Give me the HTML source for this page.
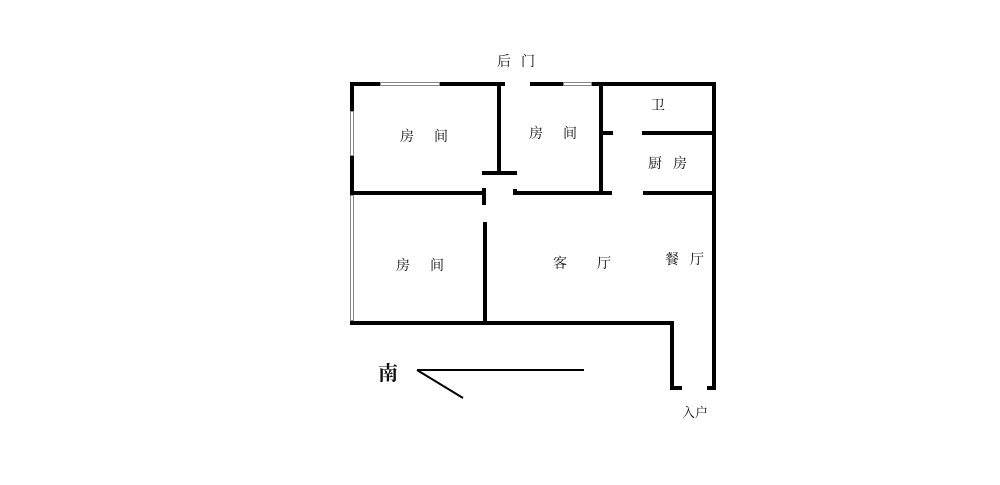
<!DOCTYPE html>
<html><head><meta charset="utf-8"><style>
html,body{margin:0;padding:0;background:#fff;width:1000px;height:485px;overflow:hidden}
svg text{font-family:"Liberation Serif","Noto Serif CJK SC",serif;font-size:14px;fill:#111}
</style></head><body>
<svg width="1000" height="485" viewBox="0 0 1000 485" xmlns="http://www.w3.org/2000/svg">
<g stroke="#000" stroke-width="4" fill="none" stroke-linecap="square">
<line x1="352" y1="84" x2="503" y2="84"/>
<line x1="532" y1="84" x2="714" y2="84"/>
<line x1="352" y1="84" x2="352" y2="111"/>
<line x1="352" y1="156" x2="352" y2="194"/>
<line x1="352" y1="321" x2="352" y2="323"/>
<line x1="499" y1="84" x2="499" y2="172"/>
<line x1="484" y1="173" x2="515" y2="173"/>
<line x1="352" y1="193" x2="483" y2="193"/>
<line x1="484" y1="190" x2="484" y2="203"/>
<line x1="515" y1="193" x2="610" y2="193"/>
<line x1="515" y1="191" x2="515" y2="193"/>
<line x1="601" y1="84" x2="601" y2="193"/>
<line x1="601" y1="133" x2="611" y2="133"/>
<line x1="644" y1="133" x2="714" y2="133"/>
<line x1="645" y1="193" x2="714" y2="193"/>
<line x1="714" y1="84" x2="714" y2="388"/>
<line x1="709" y1="388" x2="714" y2="388"/>
<line x1="485" y1="224" x2="485" y2="323"/>
<line x1="352" y1="323" x2="672" y2="323"/>
<line x1="672" y1="323" x2="672" y2="388"/>
<line x1="672" y1="388" x2="680" y2="388"/>
</g>
<g fill="#fff" stroke="#888" stroke-width="1">
<rect x="380.5" y="82.5" width="59" height="3"/>
<rect x="563.5" y="82.5" width="28" height="3"/>
<rect x="350.5" y="111.5" width="3" height="44"/>
<rect x="350.5" y="195.5" width="3" height="125"/>
</g>
<g stroke="#000" stroke-width="2">
<line x1="417" y1="370" x2="584" y2="370"/>
<line x1="417" y1="370" x2="463" y2="398"/>
</g>
<text x="378" y="380" style="font-size:20px;font-weight:bold">南</text>
<text x="497" y="66">后</text><text x="521" y="66">门</text>
<text x="400" y="141">房</text><text x="434" y="141">间</text>
<text x="529" y="138">房</text><text x="563" y="138">间</text>
<text x="651" y="110">卫</text>
<text x="648" y="168">厨</text><text x="673" y="168">房</text>
<text x="396" y="270">房</text><text x="430" y="270">间</text>
<text x="553" y="268">客</text><text x="597" y="268">厅</text>
<text x="665" y="264">餐</text><text x="690" y="264">厅</text>
<text x="682" y="417" style="font-size:13px">入户</text>
</svg>
</body></html>
